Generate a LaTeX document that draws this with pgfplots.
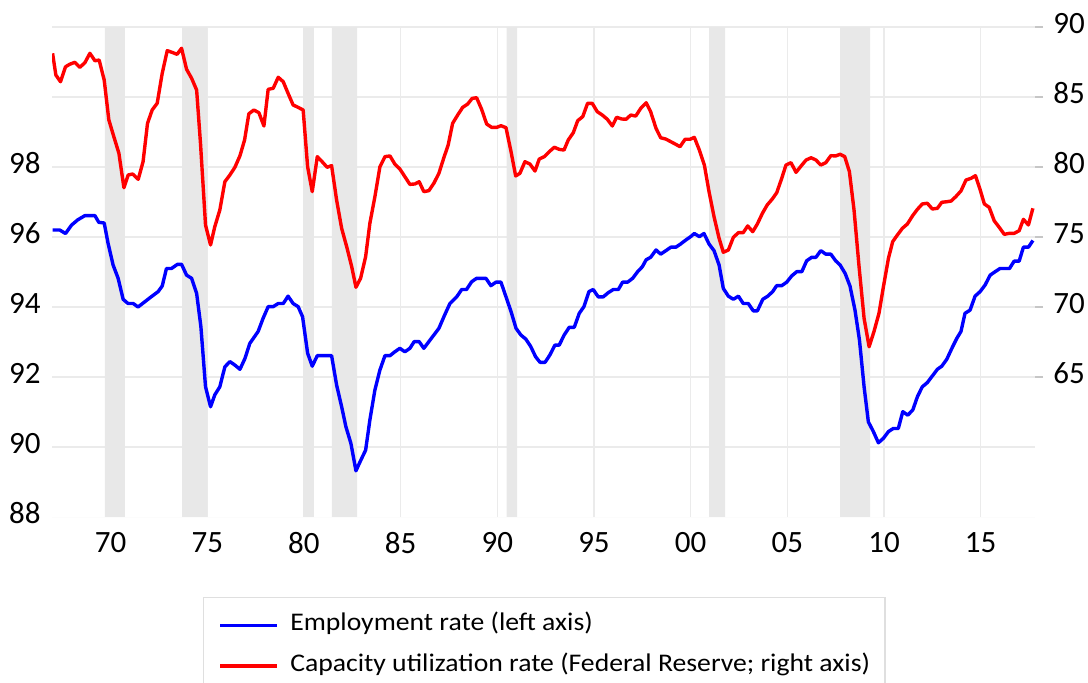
\documentclass[border=0pt]{standalone}
\usepackage{pgfplots}
\pgfplotsset{compat=1.18}
\usepackage{fontspec}
\setmainfont{Carlito}
\newfontfamily\legfont{Carlito}[FakeStretch=1.09]

% employment rate, left axis (quarterly)
\pgfplotstableread{
year val
1967.00 96.20
1967.37 96.20
1967.67 96.10
1967.98 96.34
1968.30 96.49
1968.67 96.61
1969.19 96.61
1969.39 96.42
1969.67 96.40
1969.87 95.82
1970.13 95.20
1970.39 94.82
1970.65 94.22
1970.90 94.10
1971.17 94.10
1971.42 94.00
1971.77 94.15
1972.12 94.30
1972.46 94.44
1972.67 94.60
1972.89 95.10
1973.15 95.10
1973.46 95.22
1973.67 95.22
1973.93 94.91
1974.19 94.82
1974.45 94.39
1974.67 93.44
1974.91 91.72
1975.17 91.15
1975.39 91.49
1975.65 91.72
1975.91 92.29
1976.17 92.44
1976.43 92.34
1976.69 92.22
1976.95 92.53
1977.20 92.96
1977.63 93.30
1977.89 93.68
1978.15 94.01
1978.41 94.01
1978.67 94.10
1978.93 94.10
1979.18 94.31
1979.44 94.10
1979.70 94.01
1979.93 93.72
1980.19 92.68
1980.43 92.31
1980.69 92.61
1980.95 92.61
1981.20 92.61
1981.43 92.61
1981.69 91.77
1981.95 91.15
1982.17 90.58
1982.43 90.10
1982.69 89.32
1982.93 89.61
1983.19 89.91
1983.41 90.77
1983.67 91.63
1983.93 92.20
1984.19 92.61
1984.45 92.61
1984.70 92.72
1984.96 92.82
1985.22 92.72
1985.48 92.82
1985.70 93.01
1985.96 93.01
1986.20 92.82
1986.46 93.01
1986.72 93.20
1986.98 93.39
1987.26 93.75
1987.55 94.10
1987.90 94.29
1988.16 94.50
1988.41 94.50
1988.67 94.72
1988.93 94.82
1989.41 94.82
1989.67 94.61
1989.93 94.71
1990.19 94.71
1990.45 94.29
1990.71 93.87
1990.97 93.39
1991.22 93.20
1991.48 93.08
1991.73 92.87
1991.98 92.58
1992.21 92.42
1992.47 92.42
1992.72 92.63
1992.98 92.91
1993.20 92.91
1993.46 93.20
1993.72 93.42
1993.98 93.42
1994.24 93.82
1994.48 94.01
1994.74 94.44
1994.96 94.50
1995.22 94.29
1995.48 94.29
1995.74 94.41
1996.00 94.50
1996.26 94.50
1996.48 94.71
1996.74 94.71
1997.00 94.82
1997.26 95.01
1997.50 95.15
1997.70 95.35
1997.93 95.42
1998.21 95.63
1998.45 95.51
1998.72 95.61
1998.98 95.71
1999.24 95.71
1999.48 95.80
1999.74 95.91
2000.00 96.01
2000.19 96.10
2000.45 96.01
2000.69 96.10
2000.95 95.80
2001.21 95.61
2001.47 95.20
2001.69 94.53
2001.95 94.31
2002.21 94.22
2002.47 94.31
2002.72 94.10
2002.98 94.10
2003.24 93.89
2003.45 93.89
2003.73 94.22
2003.99 94.31
2004.24 94.44
2004.45 94.61
2004.71 94.61
2004.97 94.71
2005.23 94.89
2005.49 95.01
2005.75 95.01
2006.00 95.32
2006.26 95.42
2006.48 95.42
2006.73 95.61
2006.99 95.51
2007.25 95.51
2007.50 95.32
2007.73 95.20
2007.99 94.96
2008.24 94.60
2008.50 93.91
2008.73 93.06
2008.97 91.72
2009.19 90.72
2009.45 90.44
2009.71 90.12
2009.97 90.25
2010.23 90.44
2010.48 90.53
2010.74 90.53
2010.97 91.01
2011.23 90.91
2011.49 91.06
2011.73 91.44
2011.98 91.72
2012.24 91.84
2012.50 92.03
2012.76 92.22
2012.99 92.31
2013.25 92.51
2013.51 92.82
2013.77 93.11
2013.98 93.30
2014.19 93.82
2014.45 93.91
2014.71 94.31
2014.97 94.44
2015.23 94.63
2015.49 94.91
2015.75 95.01
2016.00 95.10
2016.26 95.10
2016.49 95.10
2016.73 95.31
2016.99 95.31
2017.21 95.71
2017.47 95.71
2017.70 95.90
}\emptab

% capacity utilization, right axis
\pgfplotstableread{
year val
1967.00 88.12
1967.17 86.57
1967.41 86.09
1967.67 87.16
1967.89 87.34
1968.15 87.48
1968.41 87.12
1968.67 87.45
1968.93 88.12
1969.19 87.59
1969.41 87.64
1969.67 86.21
1969.91 83.36
1970.17 82.16
1970.43 80.98
1970.69 78.52
1970.91 79.43
1971.14 79.50
1971.43 79.12
1971.68 80.38
1971.91 83.12
1972.15 84.07
1972.41 84.55
1972.67 86.69
1972.93 88.31
1973.18 88.19
1973.44 88.05
1973.67 88.48
1973.93 86.98
1974.19 86.34
1974.45 85.50
1974.65 81.69
1974.91 75.86
1975.17 74.43
1975.39 75.74
1975.65 76.93
1975.91 78.95
1976.17 79.43
1976.43 79.98
1976.69 80.80
1976.93 81.93
1977.15 83.80
1977.41 84.07
1977.67 83.88
1977.93 82.93
1978.15 85.55
1978.41 85.62
1978.67 86.41
1978.93 86.09
1979.18 85.26
1979.44 84.43
1979.70 84.26
1979.96 84.07
1980.19 80.02
1980.43 78.24
1980.69 80.74
1980.94 80.38
1981.20 79.98
1981.43 80.10
1981.69 77.64
1981.95 75.62
1982.21 74.31
1982.47 72.88
1982.69 71.41
1982.93 72.05
1983.19 73.59
1983.41 75.98
1983.67 77.88
1983.93 80.02
1984.19 80.74
1984.45 80.79
1984.70 80.21
1984.96 79.86
1985.22 79.31
1985.48 78.76
1985.74 78.79
1985.96 78.95
1986.20 78.24
1986.46 78.31
1986.72 78.84
1986.98 79.55
1987.24 80.68
1987.46 81.57
1987.69 83.12
1987.95 83.71
1988.21 84.26
1988.47 84.50
1988.70 84.90
1988.93 84.95
1989.19 84.12
1989.45 83.07
1989.71 82.83
1989.97 82.83
1990.19 82.95
1990.45 82.81
1990.71 81.10
1990.95 79.36
1991.17 79.55
1991.43 80.38
1991.69 80.21
1991.95 79.71
1992.17 80.57
1992.43 80.74
1992.69 81.10
1992.95 81.41
1993.20 81.26
1993.45 81.21
1993.67 81.93
1993.93 82.45
1994.16 83.31
1994.42 83.60
1994.67 84.55
1994.91 84.55
1995.17 83.95
1995.43 83.71
1995.69 83.41
1995.95 82.93
1996.17 83.55
1996.43 83.43
1996.66 83.41
1996.90 83.71
1997.16 83.64
1997.42 84.19
1997.70 84.59
1997.93 83.95
1998.21 82.76
1998.45 82.09
1998.71 82.00
1998.97 81.81
1999.23 81.62
1999.45 81.45
1999.71 81.98
1999.97 81.98
2000.19 82.12
2000.45 81.21
2000.71 80.14
2000.95 78.24
2001.21 76.45
2001.47 74.91
2001.69 73.91
2001.95 74.07
2002.21 74.98
2002.47 75.31
2002.72 75.31
2002.95 75.79
2003.21 75.38
2003.45 75.93
2003.71 76.69
2003.96 77.29
2004.22 77.71
2004.45 78.16
2004.71 79.19
2004.93 80.14
2005.19 80.31
2005.45 79.62
2005.71 80.07
2005.97 80.50
2006.23 80.66
2006.48 80.50
2006.73 80.14
2006.99 80.31
2007.25 80.81
2007.50 80.79
2007.73 80.91
2007.97 80.74
2008.21 79.67
2008.45 76.93
2008.71 72.88
2008.97 69.19
2009.23 67.16
2009.48 68.24
2009.74 69.55
2009.97 71.45
2010.23 73.48
2010.45 74.67
2010.69 75.14
2010.95 75.62
2011.21 75.93
2011.47 76.50
2011.73 76.98
2011.98 77.36
2012.24 77.41
2012.50 77.00
2012.76 77.05
2012.99 77.48
2013.25 77.52
2013.47 77.57
2013.71 77.88
2013.98 78.29
2014.24 79.07
2014.50 79.19
2014.73 79.38
2014.95 78.48
2015.19 77.36
2015.44 77.12
2015.70 76.16
2015.96 75.69
2016.22 75.19
2016.47 75.26
2016.73 75.26
2016.99 75.45
2017.21 76.26
2017.47 75.86
2017.70 77.05
}\cutab

% recessions as a step function (102 = shaded)
\pgfplotstableread{
year val
1966.97 88
1969.70 102
1970.74 88
1973.70 102
1974.99 88
1979.96 102
1980.51 88
1981.45 102
1982.75 88
1990.48 102
1991.02 88
2000.96 102
2001.78 88
2007.73 102
2009.28 88
2017.81 88
}\rectab

\begin{document}
\begin{tikzpicture}
\useasboundingbox (-26pt,-82.5pt) rectangle (518pt,258.5pt);
\pgfplotsset{
  every axis/.append style={
    at={(0,0)}, anchor=south west,
    scale only axis, width=491.5pt, height=245pt,
    xmin=1966.97, xmax=2017.81,
    tick label style={font=\fontsize{15.5}{18}\selectfont},
    /pgf/number format/assume math mode=true,
  },
}
\begin{axis}[
  ymin=88, ymax=102,
  axis line style={draw=none},
  xtick={1970,1975,...,2015},
  xticklabels={70,75,80,85,90,95,00,05,10,15},
  ytick={90,92,...,102},
  yticklabels={90,92,94,96,98},
  extra y ticks={88},
  extra y tick style={grid=none},
  major tick length=0pt,
  tick style={draw=none},
  grid=major,
  grid style={draw=gray!16, line width=0.7pt},
  xticklabel style={inner sep=0pt, yshift=-7.5pt},
  yticklabel style={inner sep=0pt, xshift=-5.5pt, yshift=1.8pt},
]
\addplot[const plot, fill=gray!18, draw=none] table {\rectab} \closedcycle;
\addplot[blue, line width=1.7pt, line join=round] table {\emptab};
\end{axis}
\begin{axis}[
  ymin=55, ymax=90,
  axis x line=none,
  axis y line*=right,
  y axis line style={draw=none},
  ytick={65,70,...,90},
  tick align=outside,
  major tick length=4pt,
  ytick style={draw=gray!45, line width=0.7pt},
  yticklabel style={inner sep=0pt, xshift=5pt, yshift=1.8pt},
  legend cell align=left,
  legend image code/.code={
    \draw[#1] (0pt,0pt) -- (28.5pt,0pt);
    \path[draw=none, fill=none] (0pt,0pt) rectangle (35pt,0.1pt);
  },
  legend style={
    at={(0.1536,-0.1633)}, anchor=north west,
    draw=gray!25, line width=0.6pt,
    font=\legfont\fontsize{12.7}{15}\selectfont,
    inner xsep=7.5pt, inner ysep=7.5pt,
    nodes={inner sep=0pt, text height=9pt, text depth=3.5pt},
    row sep=8pt,
  },
]
\addlegendimage{blue, line width=1.6pt}
\addlegendentry{Employment rate (left axis)}
\addplot[red, line width=1.7pt, line join=round] table {\cutab};
\addlegendentry{Capacity utilization rate (Federal Reserve; right axis)}
\end{axis}
\end{tikzpicture}
\end{document}
